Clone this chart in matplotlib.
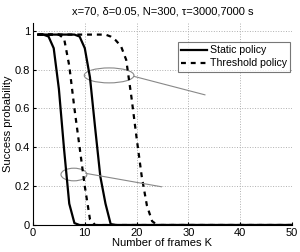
import numpy as np
import matplotlib
matplotlib.use("Agg")
import matplotlib.pyplot as plt
from matplotlib.patches import Ellipse

plt.rcParams['font.family'] = ['Liberation Sans', 'DejaVu Sans']

# number of frames K
frames = np.arange(1, 51)

# success probability, tau = 3000 s
static_3000 = [0.98, 0.98, 0.97, 0.91, 0.70, 0.39, 0.11, 0.01] + [0.0] * 42
thresh_3000 = [0.98, 0.98, 0.98, 0.98, 0.98, 0.96, 0.82, 0.60, 0.40, 0.20, 0.03] + [0.0] * 39

# success probability, tau = 7000 s
static_7000 = [0.98] * 8 + [0.97, 0.91, 0.76, 0.50, 0.25, 0.11, 0.005] + [0.0] * 35
thresh_7000 = [0.98] * 14 + [0.97, 0.95, 0.92, 0.85, 0.66, 0.45, 0.25, 0.10, 0.02] + [0.0] * 27

title = "x=70, \u03b4=0.05, N=300, \u03c4=3000,7000 s"

fig = plt.figure(figsize=(3.0, 2.52), dpi=100)
ax = fig.add_axes([0.11, 0.107, 0.863, 0.802])

ax.plot(frames, static_3000, color='black', lw=1.6, label='Static policy')
ax.plot(frames, thresh_3000, color='black', lw=1.6, ls=(0, (2.2, 2.2)), label='Threshold policy')
ax.plot(frames, static_7000, color='black', lw=1.6)
ax.plot(frames, thresh_7000, color='black', lw=1.6, ls=(0, (2.2, 2.2)))

# annotations: ellipses with pointer lines
ax.add_patch(Ellipse((14.7, 0.77), 9.6, 0.077, fill=False, ec='#888888', lw=0.8))
ax.plot([19.5, 33.2], [0.765, 0.67], color='#888888', lw=0.8)
ax.add_patch(Ellipse((7.9, 0.26), 5.0, 0.065, fill=False, ec='#888888', lw=0.8))
ax.plot([10.4, 24.8], [0.265, 0.197], color='#888888', lw=0.8)

ax.set_xlim(0, 50)
ax.set_ylim(0, 1.04)
ax.set_xticks([0, 10, 20, 30, 40, 50])
ax.set_yticks([0, 0.2, 0.4, 0.6, 0.8, 1])
ax.set_yticklabels(['0', '0.2', '0.4', '0.6', '0.8', '1'])
ax.grid(True, ls=':', color='#b0b0b0', lw=0.7)
ax.tick_params(direction='in', length=2, labelsize=8, pad=2)
ax.spines['top'].set_visible(False)
ax.spines['right'].set_visible(False)

ax.set_xlabel('Number of frames K', fontsize=8, labelpad=0)
ax.set_ylabel('Success probability', fontsize=8, labelpad=1)
ax.set_title(title, fontsize=8, pad=6)

leg = ax.legend(loc='upper right', bbox_to_anchor=(0.993, 0.905), fontsize=7.6,
                frameon=True, fancybox=False, edgecolor='#555555',
                handlelength=2.4, handletextpad=0.3, borderpad=0.3, labelspacing=0.3,
                borderaxespad=0)
leg.get_frame().set_linewidth(0.8)

fig.savefig('out.png', dpi=100)
